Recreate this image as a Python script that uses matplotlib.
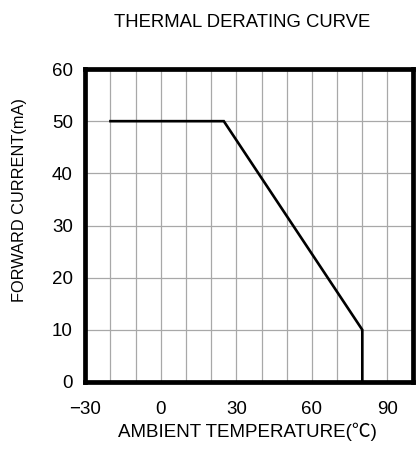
import matplotlib.pyplot as plt

plt.rcParams['font.family'] = ['Liberation Sans', 'Noto Sans CJK JP', 'DejaVu Sans']
plt.rcParams['axes.unicode_minus'] = True

# 降额曲线数据
temp = [-20, 25, 80, 80]
current = [50, 50, 10, 0]

x_ticks = [-30, 0, 30, 60, 90]
y_ticks = [0, 10, 20, 30, 40, 50, 60]

fig = plt.figure(figsize=(4.16, 4.51), dpi=100)
ax = fig.add_axes([0.205, 0.153, 0.787, 0.694])

ax.plot(temp, current, color='black', lw=1.9, solid_joinstyle='miter', zorder=3)

ax.set_xlim(-30, 100)
ax.set_ylim(0, 60)
ax.set_xticks(range(-30, 101, 10))
ax.set_xticklabels(['' if t not in x_ticks else ('\u221230' if t == -30 else str(t))
                    for t in range(-30, 101, 10)])
ax.set_yticks(y_ticks)
ax.tick_params(length=0, labelsize=13.5)
ax.tick_params(axis='x', pad=14)
ax.tick_params(axis='y', pad=9)
ax.grid(True, color='#a8a8a8', lw=0.9)

for s in ax.spines.values():
    s.set_linewidth(3.4)
    s.set_zorder(4)

fig.text(0.596, 0.042, 'AMBIENT TEMPERATURE(\u2103)', fontsize=13.5, ha='center', va='center')
fig.text(0.046, 0.557, 'FORWARD CURRENT(mA)', fontsize=11.8, ha='center', va='center', rotation=90)
fig.text(0.582, 0.951, 'THERMAL DERATING CURVE', fontsize=13.3, ha='center', va='center')

plt.savefig('out.png', dpi=100, facecolor='white')
